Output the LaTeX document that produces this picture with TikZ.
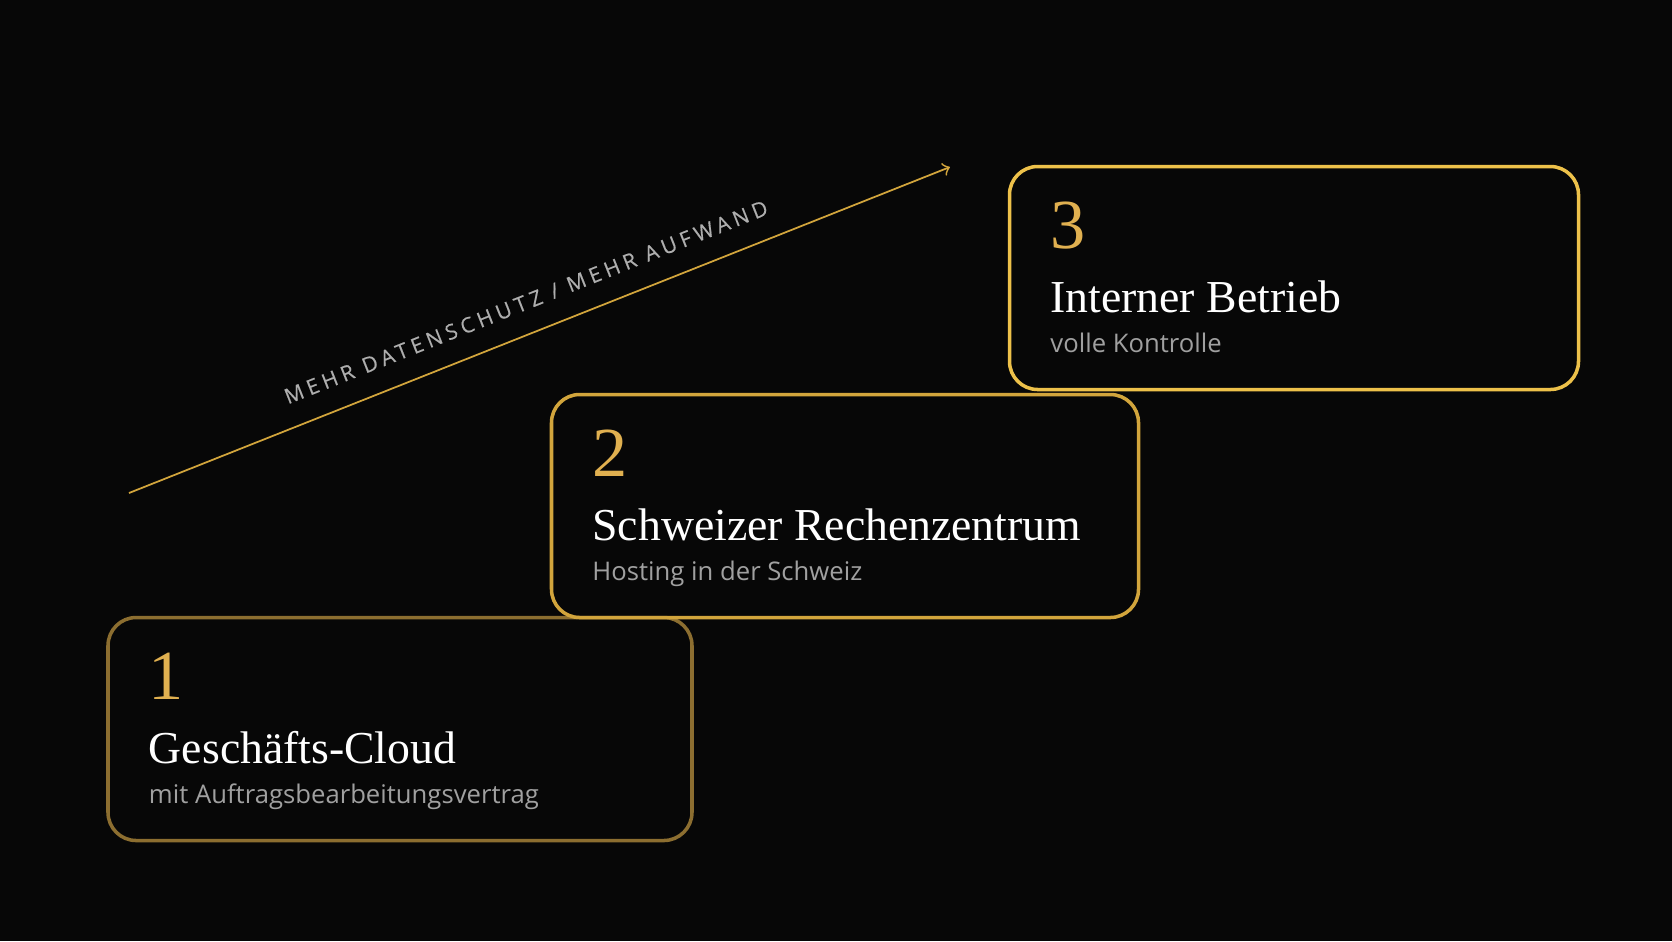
\documentclass[tikz,border=0pt]{standalone}
\usepackage{fontspec}
\setmainfont{Liberation Serif}
\setsansfont{Open Sans}
\usetikzlibrary{arrows, positioning, calc}
\definecolor{bg}{HTML}{070707}
\definecolor{golddim}{HTML}{8C6E30}
\definecolor{goldmid}{HTML}{D2A53C}
\definecolor{goldhi}{HTML}{EDC14A}
\definecolor{numgold}{HTML}{E0B050}
\definecolor{subgray}{HTML}{A0A0A0}
\begin{document}
\begin{tikzpicture}[x=0.01cm, y=-0.01cm,
  stage/.style={rectangle, rounded corners=8pt, line width=1pt, minimum width=#1, minimum height=223*0.01cm},
  number/.style={anchor=base west, inner sep=0pt, text=numgold, font=\fontsize{20}{20}\selectfont},
  title/.style={anchor=base west, inner sep=0pt, text=white, font=\fontsize{13}{14}\selectfont},
  subtitle/.style={anchor=base west, inner sep=0pt, text=subgray, font=\sffamily\fontsize{7.3}{8}\selectfont},
  arrow/.style={goldmid, line width=0.5pt, ->, >=to}]

  % Background
  \fill[bg] (0,0) rectangle (1672,941);
  \useasboundingbox (0,0) rectangle (1672,941);

  % Boxes
  \node (stageA) [stage=584*0.01cm, draw=golddim] at (400,729) {};
  \node (stageB) [stage=587*0.01cm, draw=goldmid] at (845,506) {};
  \node (stageC) [stage=569*0.01cm, draw=goldhi] at (1294,278) {};

  % Texts
  \node (numA) [number] at ($(stageA.north west)+(42,84)$) {1};
  \node (titleA) [title] at ($(stageA.north west)+(42,148)$) {Geschäfts-Cloud};
  \node (subA) [subtitle] at ($(stageA.north west)+(42,188)$) {mit Auftragsbearbeitungsvertrag};

  \node (numB) [number] at ($(stageB.north west)+(42,84)$) {2};
  \node (titleB) [title] at ($(stageB.north west)+(42,148)$) {Schweizer Rechenzentrum};
  \node (subB) [subtitle] at ($(stageB.north west)+(42,188)$) {Hosting in der Schweiz};

  \node (numC) [number] at ($(stageC.north west)+(42,84)$) {3};
  \node (titleC) [title] at ($(stageC.north west)+(42,148)$) {Interner Betrieb};
  \node (subC) [subtitle] at ($(stageC.north west)+(42,188)$) {volle Kontrolle};

  % Arrow
  \coordinate (low) at (129,493);
  \coordinate (high) at (950,167);
  \draw [arrow] (low) -- (high);
  \node (trend) [rotate=21.6, text=subgray!85, font=\sffamily\fontsize{6}{7}\selectfont\addfontfeature{LetterSpace=22,FakeBold=0.4}] at (526,302) {MEHR DATENSCHUTZ / MEHR AUFWAND};
\end{tikzpicture}
\end{document}
